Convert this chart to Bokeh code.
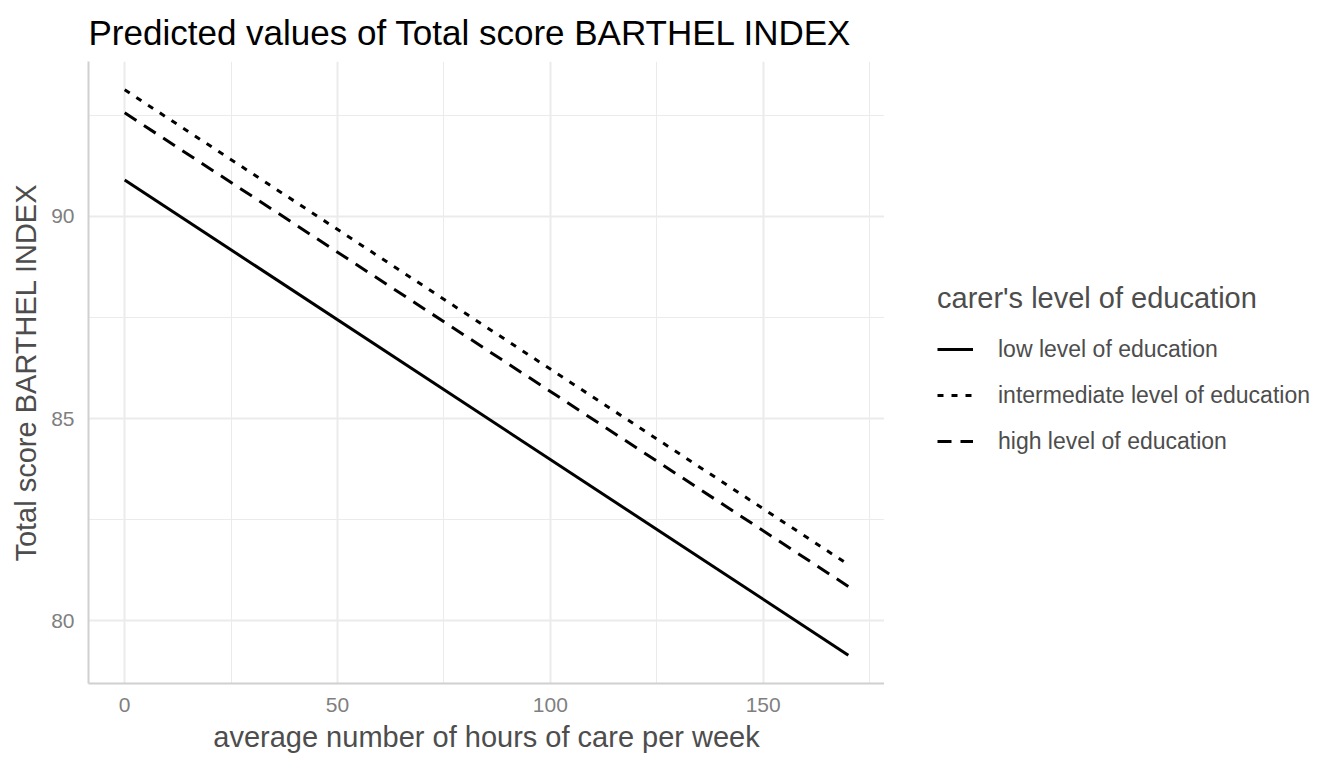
from bokeh.plotting import figure
from bokeh.models import Range1d, Legend, LegendItem, FixedTicker
from bokeh.layouts import row
from bokeh.embed import file_html
from bokeh.resources import INLINE

hours = [0, 170]
low = [90.90, 79.15]
intermediate = [93.13, 81.39]
high = [92.56, 80.85]
series_names = ["low level of education", "intermediate level of education", "high level of education"]
x_ticks = [0, 50, 100, 150]
y_ticks = [80, 85, 90]

FONT = "Liberation Sans"
styles = [dict(line_color="black", line_width=3),
          dict(line_color="black", line_width=3, line_dash="6 8"),
          dict(line_color="black", line_width=3, line_dash="14 9")]
series = [low, intermediate, high]

p = figure(width=877, height=755, output_backend="svg", toolbar_location=None,
           x_range=Range1d(-8.5, 178.5), y_range=Range1d(78.45, 93.83),
           title="Predicted values of Total score BARTHEL INDEX",
           min_border_left=0, min_border_right=0, min_border_top=0, min_border_bottom=0)
p.margin = (0, 0, 0, 7)

p.title.text_font = FONT
p.title.text_font_size = "35px"
p.title.text_color = "#000000"
p.title.text_font_style = "normal"
p.title.standoff = 20

p.outline_line_color = None
p.background_fill_color = "white"
p.border_fill_color = "white"

p.xaxis.ticker = FixedTicker(ticks=x_ticks, minor_ticks=[25, 75, 125, 175])
p.yaxis.ticker = FixedTicker(ticks=y_ticks, minor_ticks=[82.5, 87.5, 92.5])

for ax in (p.xaxis[0], p.yaxis[0]):
    ax.axis_line_color = "#d0d0d0"
    ax.axis_line_width = 2
    ax.major_tick_line_color = None
    ax.minor_tick_line_color = None
    ax.major_label_text_font = FONT
    ax.major_label_text_font_size = "21px"
    ax.major_label_text_color = "#7f7f7f"
    ax.axis_label_text_font = FONT
    ax.axis_label_text_font_size = "29px"
    ax.axis_label_text_color = "#4d4d4d"
    ax.axis_label_text_font_style = "normal"
    ax.major_label_standoff = 8

p.xaxis.axis_label = "average number of hours of care per week"
p.yaxis.axis_label = "Total score BARTHEL INDEX"
p.xaxis.axis_label_standoff = 6
p.yaxis.axis_label_standoff = 6

p.xgrid.grid_line_color = "#ebebeb"
p.ygrid.grid_line_color = "#ebebeb"
p.xgrid.grid_line_width = 2
p.ygrid.grid_line_width = 2
p.xgrid.minor_grid_line_color = "#ebebeb"
p.ygrid.minor_grid_line_color = "#ebebeb"
p.xgrid.minor_grid_line_width = 1
p.ygrid.minor_grid_line_width = 1

for s, st in zip(series, styles):
    p.line(hours, s, **st)

# legend panel (its lines lie outside its visible range; only the legend shows)
lp = figure(width=444, height=755, output_backend="svg", toolbar_location=None,
            x_range=Range1d(1000, 1001), y_range=Range1d(1000, 1001),
            min_border_left=0, min_border_right=0, min_border_top=0, min_border_bottom=0)
lp.axis.visible = False
lp.grid.visible = False
lp.outline_line_color = None
lp.background_fill_color = "white"
lp.border_fill_color = "white"
lr = [lp.line(hours, s, **st) for s, st in zip(series, styles)]

legend = Legend(items=[LegendItem(label=series_names[i], renderers=[lr[i]]) for i in range(3)],
                title="carer's level of education", location=(53, 222))
legend.title_text_font = FONT
legend.title_text_font_size = "29px"
legend.title_text_color = "#4d4d4d"
legend.title_text_font_style = "normal"
legend.title_standoff = 14
legend.label_text_font = FONT
legend.label_text_font_size = "23px"
legend.label_text_color = "#4d4d4d"
legend.border_line_color = None
legend.background_fill_alpha = 0
legend.glyph_width = 36
legend.glyph_height = 40
legend.label_standoff = 25
legend.spacing = 6
legend.padding = 8
legend.label_height = 40
legend.margin = 0
lp.add_layout(legend, "center")

layout = row(p, lp)
open("out.html", "w").write(file_html(layout, INLINE))
